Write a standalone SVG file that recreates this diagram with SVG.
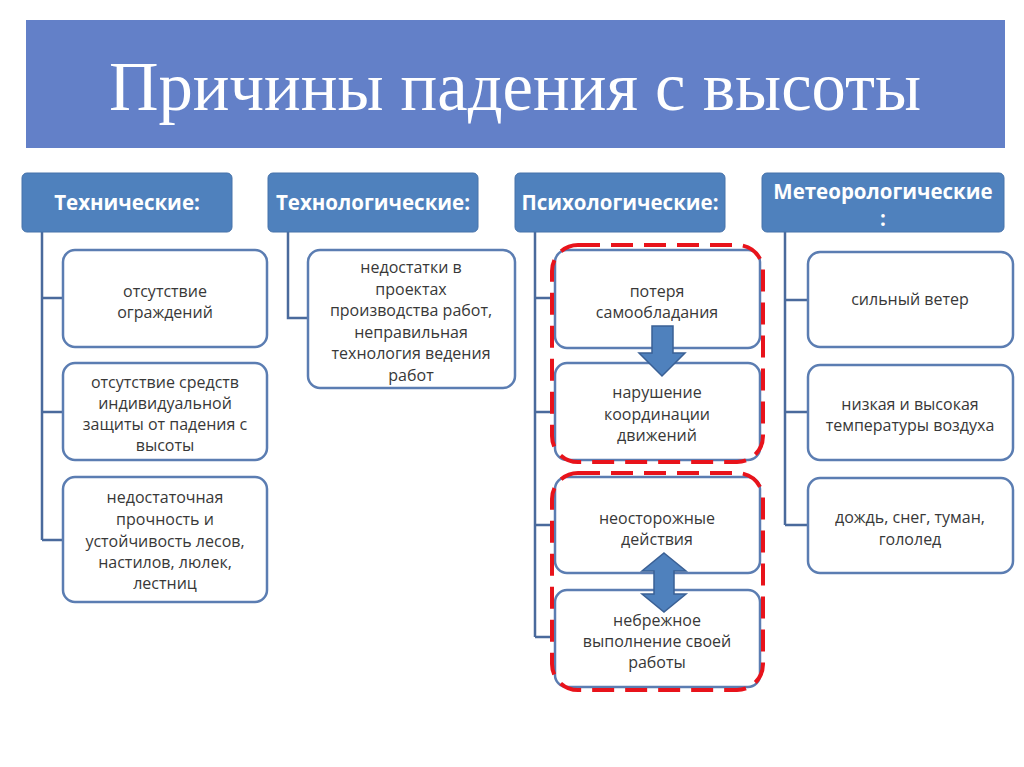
<svg xmlns="http://www.w3.org/2000/svg" width="1024" height="767" viewBox="0 0 1024 767">
<defs>
<style>
.hdr{fill:#4F81BD;stroke:#4672AA;stroke-width:1}
.ht{fill:#fff;font-family:"Open Sans","Liberation Sans",sans-serif;font-weight:bold;font-size:20.5px;text-anchor:middle}
.box{fill:#fff;stroke:#5B7DB2;stroke-width:2.5}
.bt{fill:#383838;font-family:"Open Sans","Liberation Sans",sans-serif;font-size:16px;text-anchor:middle}
.ln{fill:none;stroke:#4A6A9C;stroke-width:2.5}
.red{fill:none;stroke:#E8131B;stroke-width:4;stroke-dasharray:22 11}
.arr{fill:#4F81BD;stroke:#3A6095;stroke-width:1.5}
</style>
</defs>
<rect width="1024" height="767" fill="#fff"/>
<g id="title">
<rect x="26" y="20" width="979" height="128" fill="#6380C8"/>
<text x="515" y="110" fill="#fff" font-family="Liberation Serif,serif" font-size="70" text-anchor="middle" textLength="812" lengthAdjust="spacingAndGlyphs">Причины падения с высоты</text>
</g>
<g id="connectors">
<path class="ln" d="M42 232V540M42 298H63M42 412H63M42 540H63"/>
<path class="ln" d="M288 232V318H308"/>
<path class="ln" d="M535 232V637M535 298H555M535 412H555M535 525H555M535 637H555"/>
<path class="ln" d="M785 232V525M785 300H808M785 412H808M785 525H808"/>
</g>
<g id="h1"><rect class="hdr" x="22" y="173" width="210" height="59" rx="5"/><text class="ht" x="127" y="210">Технические:</text></g>
<g id="h2"><rect class="hdr" x="268" y="173" width="210" height="59" rx="5"/><text class="ht" x="373" y="210">Технологические:</text></g>
<g id="h3"><rect class="hdr" x="515" y="173" width="210" height="59" rx="5"/><text class="ht" x="620" y="210">Психологические:</text></g>
<g id="h4"><rect class="hdr" x="762" y="173" width="242" height="59" rx="5"/><text class="ht" x="883" y="199">Метеорологические</text><text class="ht" x="883" y="226">:</text></g>
<g id="n11"><rect class="box" x="63" y="250" width="204" height="97" rx="12"/><text class="bt" x="165" y="297">отсутствие</text><text class="bt" x="165" y="318">ограждений</text></g>
<g id="n12"><rect class="box" x="63" y="363" width="204" height="97" rx="12"/><text class="bt" x="165" y="388">отсутствие средств</text><text class="bt" x="165" y="409">индивидуальной</text><text class="bt" x="165" y="430">защиты от падения с</text><text class="bt" x="165" y="451">высоты</text></g>
<g id="n13"><rect class="box" x="63" y="477" width="204" height="125" rx="12"/><text class="bt" x="165" y="503">недостаточная</text><text class="bt" x="165" y="525">прочность и</text><text class="bt" x="165" y="547">устойчивость лесов,</text><text class="bt" x="165" y="568">настилов, люлек,</text><text class="bt" x="165" y="589">лестниц</text></g>
<g id="n21"><rect class="box" x="308" y="250" width="207" height="138" rx="12"/><text class="bt" x="411" y="273">недостатки в</text><text class="bt" x="411" y="294.5">проектах</text><text class="bt" x="411" y="316">производства работ,</text><text class="bt" x="411" y="337.5">неправильная</text><text class="bt" x="411" y="359">технология ведения</text><text class="bt" x="411" y="380.5">работ</text></g>
<g id="n31"><rect class="box" x="555" y="250" width="205" height="98" rx="12"/><text class="bt" x="657" y="297">потеря</text><text class="bt" x="657" y="318">самообладания</text></g>
<g id="n32"><rect class="box" x="555" y="363" width="205" height="97" rx="12"/><text class="bt" x="657" y="398">нарушение</text><text class="bt" x="657" y="420">координации</text><text class="bt" x="657" y="441">движений</text></g>
<g id="n33"><rect class="box" x="555" y="477" width="205" height="96" rx="12"/><text class="bt" x="657" y="524">неосторожные</text><text class="bt" x="657" y="545">действия</text></g>
<g id="n34"><rect class="box" x="555" y="590" width="205" height="97" rx="12"/><text class="bt" x="657" y="626">небрежное</text><text class="bt" x="657" y="647">выполнение своей</text><text class="bt" x="657" y="668">работы</text></g>
<g id="n41"><rect class="box" x="808" y="252" width="205" height="95" rx="12"/><text class="bt" x="910" y="305">сильный ветер</text></g>
<g id="n42"><rect class="box" x="808" y="365" width="205" height="95" rx="12"/><text class="bt" x="910" y="410">низкая и высокая</text><text class="bt" x="910" y="431">температуры воздуха</text></g>
<g id="n43"><rect class="box" x="808" y="478" width="205" height="95" rx="12"/><text class="bt" x="910" y="523">дождь, снег, туман,</text><text class="bt" x="910" y="545">гололед</text></g>
<g id="arrows">
<path class="arr" d="M652 326H673V353H685L662 376L639 353H652Z"/>
<path class="arr" d="M664 553L686 571H674V594H686L664 612L642 594H654V571H642Z"/>
</g>
<g id="highlights">
<rect class="red" x="552" y="245" width="211" height="217" rx="26"/>
<rect class="red" x="552" y="473" width="211" height="217" rx="26"/>
</g>
</svg>
